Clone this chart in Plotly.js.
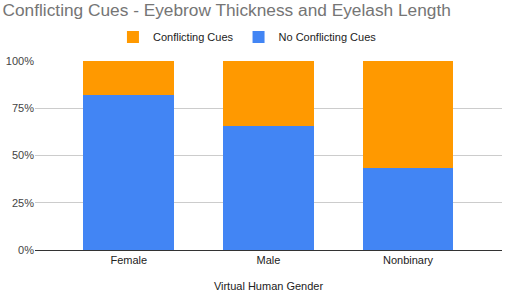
<!DOCTYPE html>
<html><head><meta charset="utf-8">
<script src="https://cdn.plot.ly/plotly-3.0.1.min.js"></script>
<style>html,body{margin:0;padding:0;background:#fff}#chart{width:505px;height:295px}</style>
</head><body><div id="chart"></div>
<script>
const categories = ["Female", "Male", "Nonbinary"];
const noConflicting = [82.2, 65.8, 43.2];
const conflicting = [17.8, 34.2, 56.8];
const yTickValues = [0, 25, 50, 75, 100];
const yTickLabels = ["0%", "25%", "50%", "75%", "100%"];

const FONT = 'Arial, "Liberation Sans", sans-serif';

const traces = [
  {type: 'bar', name: 'No Conflicting Cues', x: categories, y: noConflicting,
   marker: {color: '#4285f4'}, hoverinfo: 'skip'},
  {type: 'bar', name: 'Conflicting Cues', x: categories, y: conflicting,
   marker: {color: '#ff9900'}, hoverinfo: 'skip'}
];

const layout = {
  width: 505, height: 295,
  margin: {l: 35, r: 3, t: 61, b: 45},
  paper_bgcolor: '#fff', plot_bgcolor: '#fff',
  barmode: 'stack', bargap: 0.35,
  font: {family: FONT, color: '#222'},
  title: {text: 'Conflicting Cues - Eyebrow Thickness and Eyelash Length',
    font: {family: FONT, size: 17.3, color: '#757575'},
    xref: 'container', x: 0.005, xanchor: 'left',
    yref: 'container', y: 0.966, yanchor: 'middle'},
  showlegend: true,
  legend: {orientation: 'h', traceorder: 'reversed',
    xref: 'container', x: 0.49, xanchor: 'center',
    yref: 'container', y: 1 - 37/295, yanchor: 'middle',
    font: {family: FONT, size: 11, color: '#222'}, itemwidth: 30},
  xaxis: {range: [-0.672, 2.673], showgrid: false, showline: true,
    linecolor: '#333', linewidth: 1, ticks: '', tickfont: {family: FONT, size: 11, color: '#222'},
    title: {text: 'Virtual Human Gender', font: {family: FONT, size: 11, color: '#222'}, standoff: 17}},
  yaxis: {range: [0, 100], tickvals: yTickValues, ticktext: yTickLabels,
    gridcolor: '#cccccc', zeroline: false, showline: false,
    tickfont: {family: FONT, size: 11, color: '#444'}, ticks: '', fixedrange: true}
};

Plotly.newPlot('chart', traces, layout, {staticPlot: true, displayModeBar: false});
</script></body></html>
